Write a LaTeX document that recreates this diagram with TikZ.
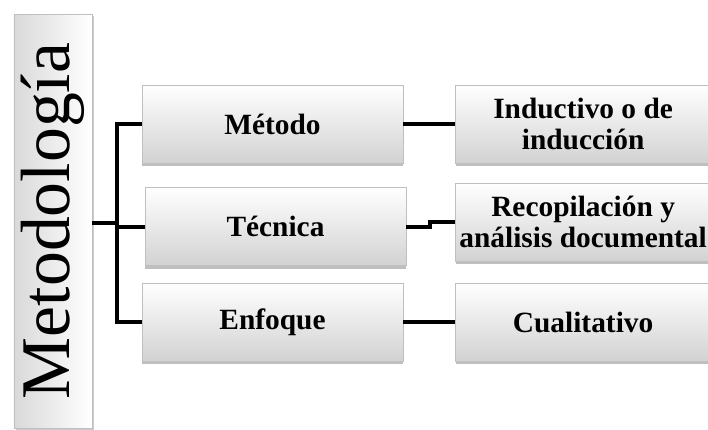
\documentclass[tikz,border=0pt]{standalone}
\usepackage{fontspec}
\setmainfont{Liberation Serif}
\usepackage{tikz}
\usetikzlibrary{positioning, shadows, calc}
\definecolor{boxgray}{RGB}{210, 210, 210}

\begin{document}
\begin{tikzpicture}[
    x=1bp, y=-1bp,
    node distance=52bp,
    box/.style={rectangle, draw=gray!50, line width=0.6bp, top color=white, bottom color=boxgray,
        minimum width=261bp, minimum height=78bp, align=center,
        drop shadow={shadow xshift=0bp, shadow yshift=-3bp, opacity=0.5},
        font=\bfseries\fontsize{29.5}{32}\selectfont},
    title/.style={rectangle, draw=gray!50, line width=0.6bp, left color=boxgray!85, right color=white,
        minimum width=414bp, minimum height=78bp, rotate=90,
        drop shadow={shadow xshift=2bp, shadow yshift=-2bp, opacity=0.4},
        font=\fontsize{70}{70}\selectfont},
    link/.style={line width=4bp, line join=miter}
]
    \useasboundingbox (0,0) rectangle (708,429);

    % Title
    \node[title] (meto) at (53,221) {Metodología};

    % Middle column
    \node[box] (met) at (272.5,124) {Método};
    \node[box] (tec) at (275.5,226.5) {Técnica};
    \node[box] (enf) at (272.5,322) {Enfoque};

    % Right column
    \node[box, minimum width=255bp, right=52bp of met] (ind) {Inductivo o de\\inducción};
    \node[box, minimum width=255bp, right=49bp of tec, yshift=4.5bp] (rec) {Recopilación y\\análisis documental};
    \node[box, minimum width=255bp, right=52bp of enf] (cua) {Cualitativo};

    % Bracket
    \coordinate (split) at (117,223);
    \coordinate (jog) at (430,0);
    \draw[link] (meto.south |- split) -- (split);
    \draw[link] (met.west) -| (split |- enf.west) -- (enf.west);
    \draw[link] (split |- tec.west) -- (tec.west);

    % Links
    \draw[link] (met.east) -- (ind.west);
    \draw[link] (tec.east) -| (jog |- rec.west) -- (rec.west);
    \draw[link] (enf.east) -- (cua.west);
\end{tikzpicture}
\end{document}
